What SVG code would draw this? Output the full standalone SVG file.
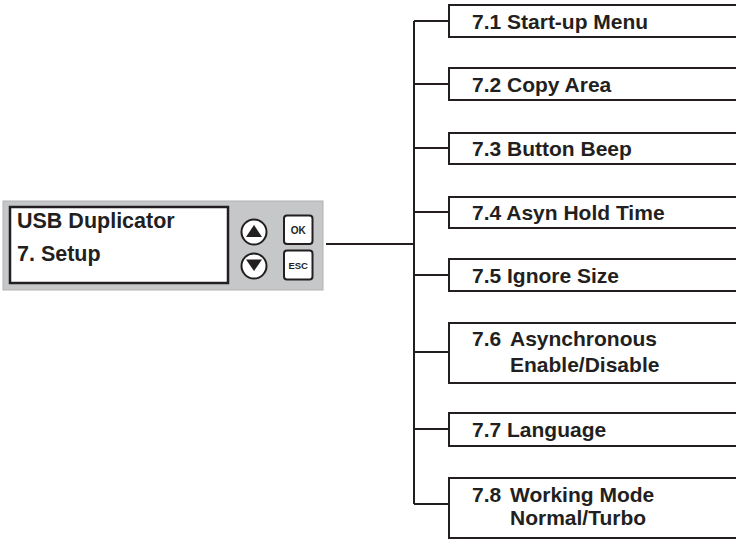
<svg xmlns="http://www.w3.org/2000/svg" width="736" height="539" viewBox="0 0 736 539">
  <style>
    .t { font-family: "Liberation Sans", Arial, Helvetica, sans-serif; font-weight: bold; fill: #231f20; }
    .box { fill: #ffffff; stroke: #231f20; stroke-width: 2; }
    .item { font-size: 21px; }
    .conn { stroke: #231f20; stroke-width: 2; fill: none; }
    .btn { fill: #ffffff; stroke: #231f20; stroke-width: 2; }
  </style>
  <rect width="736" height="539" fill="#ffffff"/>

  <g id="connectors">
    <path class="conn" d="M326 244 H414"/>
    <path class="conn" d="M414 21 V504"/>
    <path class="conn" d="M414 21 H449"/>
    <path class="conn" d="M414 84 H449"/>
    <path class="conn" d="M414 148 H449"/>
    <path class="conn" d="M414 212 H449"/>
    <path class="conn" d="M414 275 H449"/>
    <path class="conn" d="M414 352 H449"/>
    <path class="conn" d="M414 429 H449"/>
    <path class="conn" d="M414 504 H449"/>
  </g>

  <g id="panel">
    <rect x="3" y="201" width="320" height="89" fill="#c5c7c9" stroke="#b0b2b4" stroke-width="1"/>
    <rect x="10" y="207" width="218" height="76" fill="#ffffff" stroke="#231f20" stroke-width="2.5"/>
    <text class="t" x="17" y="228" font-size="21.5">USB Duplicator</text>
    <text class="t" x="17" y="261" font-size="21.5">7. Setup</text>
    <circle class="btn" cx="254" cy="232" r="12.5"/>
    <polygon points="254,225 246,237 262,237" fill="#231f20"/>
    <circle class="btn" cx="254" cy="266" r="12.5"/>
    <polygon points="254,271 246,259.5 262,259.5" fill="#231f20"/>
    <rect class="btn" x="284" y="215.5" width="28.5" height="28.5" rx="3"/>
    <text class="t" x="298.2" y="234" font-size="10" text-anchor="middle">OK</text>
    <rect class="btn" x="284" y="250.5" width="28.5" height="29" rx="3"/>
    <text class="t" x="298.2" y="269" font-size="9.5" text-anchor="middle">ESC</text>
  </g>

  <g id="n71">
    <rect class="box" x="449" y="5" width="300" height="32"/>
    <text class="t item" x="472" y="28.5">7.1 Start-up Menu</text>
  </g>
  <g id="n72">
    <rect class="box" x="449" y="68" width="300" height="32"/>
    <text class="t item" x="472" y="91.5">7.2 Copy Area</text>
  </g>
  <g id="n73">
    <rect class="box" x="449" y="133" width="300" height="31"/>
    <text class="t item" x="472" y="155.5">7.3 Button Beep</text>
  </g>
  <g id="n74">
    <rect class="box" x="449" y="197" width="300" height="31"/>
    <text class="t item" x="472" y="219.5">7.4 Asyn Hold Time</text>
  </g>
  <g id="n75">
    <rect class="box" x="449" y="259" width="300" height="32"/>
    <text class="t item" x="472" y="282.5">7.5 Ignore Size</text>
  </g>
  <g id="n76">
    <rect class="box" x="449" y="323" width="300" height="60"/>
    <text class="t item" x="472" y="345.5">7.6</text>
    <text class="t item" x="510" y="345.5">Asynchronous</text>
    <text class="t item" x="510" y="372">Enable/Disable</text>
  </g>
  <g id="n77">
    <rect class="box" x="449" y="413" width="300" height="33"/>
    <text class="t item" x="472" y="436.5">7.7 Language</text>
  </g>
  <g id="n78">
    <rect class="box" x="449" y="478" width="300" height="60"/>
    <text class="t item" x="472" y="501.5">7.8</text>
    <text class="t item" x="510" y="501.5">Working Mode</text>
    <text class="t item" x="510" y="524.5">Normal/Turbo</text>
  </g>
</svg>
